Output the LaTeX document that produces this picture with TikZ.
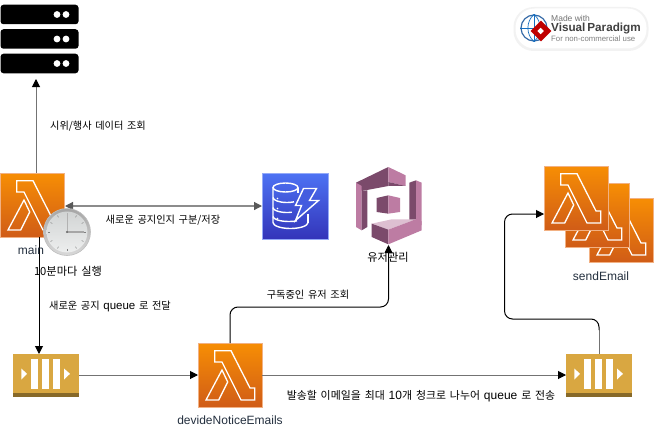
\documentclass[tikz,border=0pt]{standalone}
\usepackage{fontspec}
\setmainfont{Liberation Sans}
\newfontfamily\kofont[WordSpace=1.6]{Noto Sans CJK KR}
\usetikzlibrary{shapes,arrows.meta,positioning}

\definecolor{lamtop}{HTML}{F78E04}
\definecolor{lambot}{HTML}{D05C17}
\definecolor{lamedge}{HTML}{F2B183}
\definecolor{dbtop}{HTML}{4D72F3}
\definecolor{dbbot}{HTML}{3334B9}
\definecolor{queuefill}{HTML}{D9A741}
\definecolor{queuedark}{HTML}{876929}
\definecolor{cogdark}{HTML}{7B4A6B}
\definecolor{coglight}{HTML}{BD7CA3}
\definecolor{cogtop}{HTML}{DDBFD1}
\definecolor{captioncol}{HTML}{232F3E}

\newcommand{\lambdaglyph}[1]{
    \draw [white, line width=1.3pt, shift={(#1.north west)}]
        (16.7,7.7) -- (33,7.7) -- (52,45) -- (56.7,45) -- (56.7,57) -- (43,57) -- (24,19) -- (16.7,19) -- cycle
        (24,27) -- (29.7,39) -- (20.7,57) -- (8,57) -- cycle;
}
\newcommand{\queueglyph}[1]{
    \begin{scope}[shift={(#1.north west)}]
        \fill [queuedark] (0,39.5) rectangle (66,43);
        \foreach \barx in {18,29,40}
            \fill [white] (\barx,5.3) rectangle (\barx+7.3,35.3);
        \fill [white] (8.3,15) -- (14,20.3) -- (8.3,26) -- cycle;
        \fill [white] (51,15) -- (57,20.3) -- (51,26) -- cycle;
    \end{scope}
}

\tikzset{
    blacktip/.tip={Triangle[length=8pt,width=8pt,color=black]},
    slatetip/.tip={Triangle[length=8pt,width=8pt,color=black!65]},
    flow/.style={-blacktip, line width=1pt, black},
    plainline/.style={line width=1pt, draw=black!55},
    lambdabox/.style={rectangle, minimum size=64pt, inner sep=0pt, outer sep=0pt, draw=lamedge, line width=1pt,
        top color=lamtop, bottom color=lambot},
    queuebox/.style={rectangle, minimum width=66pt, minimum height=43pt, inner sep=0pt, outer sep=0pt, fill=queuefill},
    rack/.style={rectangle, rounded corners=3pt, minimum width=78pt, minimum height=19.5pt, inner sep=0pt, outer sep=0pt, fill=black,
        path picture={
            \fill [white] ([xshift=17.5pt]path picture bounding box.center) circle (3.4pt);
            \fill [white] ([xshift=26.5pt]path picture bounding box.center) circle (3.4pt);
        }},
    caption/.style={text=captioncol, font=\fontsize{12}{14}\selectfont, inner sep=0pt},
    lbl/.style={font=\fontsize{10.2}{12}\selectfont\kofont, inner sep=0pt},
    capko/.style={font=\fontsize{11.2}{13}\selectfont\kofont, inner sep=0pt}
}

\begin{document}
\begin{tikzpicture}[x=1pt,y=-1pt]
    \useasboundingbox (0,0) rectangle (655,428);

    % watermark
    \node (halo) [rectangle, rounded corners=20pt, fill=black!5, minimum width=135pt, minimum height=44pt, inner sep=0pt] at (581,29) {};
    \node (badge) [rectangle, rounded corners=19pt, fill=white, minimum width=131pt, minimum height=40pt, inner sep=0pt] at (581,28.5) {};
    \node (globe) [circle, draw=cyan!50!blue!80!black, line width=1.2pt, fill=white, minimum size=26pt, inner sep=0pt] at (534,28) {};
    \draw [cyan!50!blue, line width=0.7pt] (globe.west) -- (globe.east) (globe.north) -- (globe.south);
    \draw [cyan!50!blue, line width=0.7pt] (globe.north) to[bend right=50] (globe.south);
    \draw [cyan!50!blue, line width=0.7pt] (globe.north) to[bend left=50] (globe.south);
    \node (stamp) [diamond, fill=red!75!black, minimum size=21pt, inner sep=0pt] at (541,31) {};
    \fill [white, rotate around={45:(541,31)}] (538.5,28.5) rectangle (543,33);
    \node (made) [anchor=west, text=black!55, font=\fontsize{8.5}{10}\selectfont, inner sep=0pt] at (551,18) {Made with};
    \node (vp) [anchor=west, text=black!75, font=\fontsize{11.7}{13}\selectfont\bfseries, inner sep=0pt] at (551,28.5) {Visual\,Paradigm};
    \node (noncom) [anchor=west, text=black!50, font=\fontsize{7.8}{9}\selectfont, inner sep=0pt] at (551,38.5) {For non-commercial use};

    % servers
    \node (rackA) [rack] at (39.5,14.5) {};
    \node (rackB) [rack] at (39.5,39) {};
    \node (rackC) [rack] at (39.5,63.5) {};

    % lambdas
    \node (main) [lambdabox] at (32,205) {};
    \lambdaglyph{main}
    \node (devide) [lambdabox] at (230,375) {};
    \lambdaglyph{devide}
    \node (sendC) [lambdabox] at (621,230) {};
    \lambdaglyph{sendC}
    \node (sendB) [lambdabox] at (597,215) {};
    \lambdaglyph{sendB}
    \node (sendA) [lambdabox] at (576,198) {};
    \lambdaglyph{sendA}

    % dynamo
    \node (dynamo) [rectangle, minimum size=66pt, inner sep=0pt, outer sep=0pt, draw=dbtop!60!white, line width=1pt, top color=dbtop, bottom color=dbbot] at (295.5,206.5) {};
    \begin{scope}[shift={(dynamo.north west)}, white, line width=1.4pt]
        \draw (23,14) ellipse (12.5 and 4.5);
        \draw (10.5,14) -- (10.5,49) arc[start angle=180, end angle=0, x radius=17.5, y radius=6];
        \draw (10.5,24) arc[start angle=180, end angle=60, x radius=14, y radius=5];
        \draw (10.5,34) arc[start angle=180, end angle=70, x radius=14, y radius=5];
        \draw (10.5,43) arc[start angle=180, end angle=60, x radius=16, y radius=5];
        \draw (35.5,14) -- (35.5,19);
        \draw (45.5,40) -- (45.5,49);
        \foreach \doty in {25,35,45}
            \fill (15,\doty) circle (0.9);
        \draw [fill=dbtop!65!dbbot] (41,15) -- (54,15) -- (47,27) -- (56,27) -- (33,47) -- (39,32) -- (33,32) -- cycle;
    \end{scope}

    % cognito
    \node (users) [rectangle, minimum width=66pt, minimum height=78pt, inner sep=0pt, outer sep=0pt] at (388.5,206) {};
    \begin{scope}[shift={(350,162)}, x=0.3333pt, y=-0.3333pt]
        \fill [cogdark] (18,62) -- (115,15) -- (115,72) -- (35,87) -- cycle;
        \fill [coglight] (115,15) -- (167,40) -- (167,72) -- (115,60) -- cycle;
        \fill [cogdark] (115,60) -- (167,72) -- (115,72) -- cycle;
        \fill [coglight] (18,62) -- (35,72) -- (35,205) -- (18,195) -- cycle;
        \fill [cogdark] (35,87) -- (52,85) -- (52,195) -- (35,205) -- cycle;
        \fill [cogdark] (178,62) -- (198,55) -- (198,172) -- (178,177) -- cycle;
        \fill [coglight] (198,55) -- (215,62) -- (215,190) -- (198,178) -- cycle;
        \fill [cogtop] (65,185) -- (125,172) -- (197,172) -- (115,203) -- cycle;
        \fill [cogdark] (65,185) -- (115,203) -- (115,247) -- (65,225) -- cycle;
        \fill [coglight] (115,203) -- (197,172) -- (215,178) -- (215,205) -- (115,247) -- cycle;
        \fill [cogdark] (80,108) -- (115,100) -- (115,155) -- (80,150) -- cycle;
        \fill [coglight] (115,100) -- (150,108) -- (150,150) -- (115,155) -- cycle;
    \end{scope}

    % queues
    \node (queueA) [queuebox] at (46,375) {};
    \queueglyph{queueA}
    \node (queueB) [queuebox] at (599,375) {};
    \queueglyph{queueB}

    % free ends
    \coordinate (mainup) at (36,173);
    \coordinate (rackin) at (36,79);
    \coordinate (maindown) at (39,237);
    \coordinate (queuein) at (39,354);
    \coordinate (mainright) at (65,206);
    \coordinate (dynamoin) at (262,206);
    \coordinate (cornerA) at (388.5,307);
    \coordinate (gapB) at (599,330);
    \coordinate (cornerB) at (504.5,319);
    \coordinate (sendin) at (544,214);

    % connectors
    \draw [plainline, -blacktip] (mainup) -- (rackin);
    \draw [plainline, slatetip-slatetip, line width=1.2pt, draw=black!45] (mainright) -- (dynamoin);
    \draw [flow] (maindown) -- (queuein);
    \draw [plainline, -blacktip] (queueA) -- (devide);
    \draw [plainline, -blacktip] (devide) -- (queueB);
    \draw [flow, rounded corners=8pt] (devide.north) |- (cornerA) -- (users.south);
    \draw [plainline] (queueB.north) -- (gapB);
    \draw [flow, rounded corners=8pt] (gapB) |- (cornerB) |- (sendin);

    % clock
    \node (clock) [circle, minimum size=47pt, inner sep=0pt, top color=black!35, bottom color=black!15, draw=black!25, line width=0.6pt] at (67,232) {};
    \node (face) [circle, minimum size=41pt, inner sep=0pt, top color=cyan!6!black!18, bottom color=cyan!6!black!7] at (67,232) {};
    \foreach \tickangle in {0,30,...,330}
        \draw [black!50, line width=0.5pt] (67,232) ++(\tickangle:17) -- ++(\tickangle:2);
    \draw [black!30, line width=1pt] (face.center) -- ++(0,-19);
    \draw [black!35, line width=1.6pt] (face.center) -- ++(17,0);
    \fill [black!60] (face.center) circle (1.2);

    % labels
    \node (mainname) [caption] at (31,250) {main};
    \node (devidename) [caption] at (230,420) {devideNoticeEmails};
    \node (sendname) [caption] at (601,276) {sendEmail};
    \node (usersname) [capko] at (388,257) {유저관리};
    \node (clockname) [capko] at (68,271) {10분마다 실행};
    \node (serverlbl) [lbl] at (98,126) {시위/행사 데이터 조회};
    \node (dynamolbl) [lbl] at (163,220) {새로운 공지인지 구분/저장};
    \node (queuelbl) [lbl] at (110,306) {새로운 공지 {\rmfamily\fontsize{11.5}{12}\selectfont queue} 로 전달};
    \node (userslbl) [lbl] at (308,295) {구독중인 유저 조회};
    \node (chunklbl) [lbl, font=\fontsize{10.9}{12}\selectfont\kofont] at (421,396) {발송할 이메일을 최대 {\rmfamily\fontsize{12}{12}\selectfont 10}개 청크로 나누어 {\rmfamily\fontsize{12}{12}\selectfont queue} 로 전송};
\end{tikzpicture}
\end{document}
